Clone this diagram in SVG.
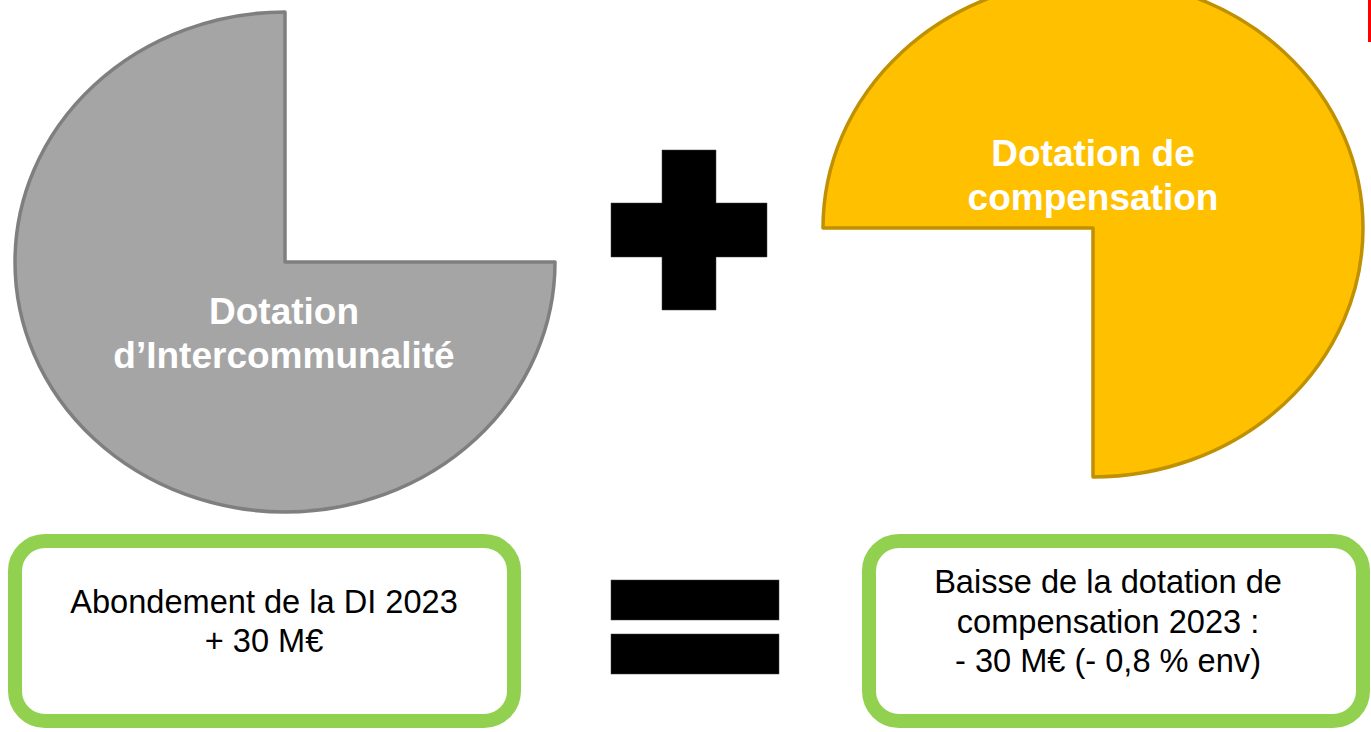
<svg xmlns="http://www.w3.org/2000/svg" width="1371" height="732" viewBox="0 0 1371 732">
<style>
.pietext{font-family:"Liberation Sans",Arial,sans-serif;font-weight:bold;font-size:37px;fill:#FFFFFF;text-anchor:middle}
.boxtext{font-family:"Liberation Sans",Arial,sans-serif;font-size:32.6px;fill:#000000;text-anchor:middle}
.box{fill:#FFFFFF;stroke:#92D050;stroke-width:14}
.sym{fill:#000000;stroke:#404040;stroke-width:0.5}
</style>
<rect x="0" y="0" width="1371" height="732" fill="#FFFFFF"/>
<rect x="1368" y="0" width="3" height="42" fill="#FF0000"/>
<g id="pie-intercommunalite">
<path d="M285,262 L285,12 A270,250 0 1,0 555,262 Z" fill="#A5A5A5" stroke="#7F7F7F" stroke-width="3.5" stroke-linejoin="round"/>
<text class="pietext" x="284" y="324">Dotation</text>
<text class="pietext" x="284" y="368">d’Intercommunalité</text>
</g>
<g id="pie-compensation">
<path d="M1093,228 L823,228 A270,249 0 1,1 1093,477 Z" fill="#FFC000" stroke="#BF9000" stroke-width="3.5" stroke-linejoin="round"/>
<text class="pietext" x="1093" y="166">Dotation de</text>
<text class="pietext" x="1093" y="210">compensation</text>
</g>
<g id="plus">
<path class="sym" d="M662,150 H716 V203 H767 V257 H716 V310 H662 V257 H611 V203 H662 Z"/>
</g>
<g id="equals">
<rect class="sym" x="611" y="580" width="168" height="40"/>
<rect class="sym" x="611" y="634" width="168" height="40"/>
</g>
<g id="box-abondement">
<rect class="box" x="15" y="541" width="499" height="180" rx="30" ry="30"/>
<text class="boxtext" x="264" y="613">Abondement de la DI 2023</text>
<text class="boxtext" x="264" y="652">+ 30 M€</text>
</g>
<g id="box-baisse">
<rect class="box" x="869" y="541" width="494" height="180" rx="30" ry="30"/>
<text class="boxtext" x="1108" y="593">Baisse de la dotation de</text>
<text class="boxtext" x="1108" y="633">compensation 2023 :</text>
<text class="boxtext" x="1108" y="672">- 30 M€ (- 0,8 % env)</text>
</g>
<g id="connectors"/>
</svg>
